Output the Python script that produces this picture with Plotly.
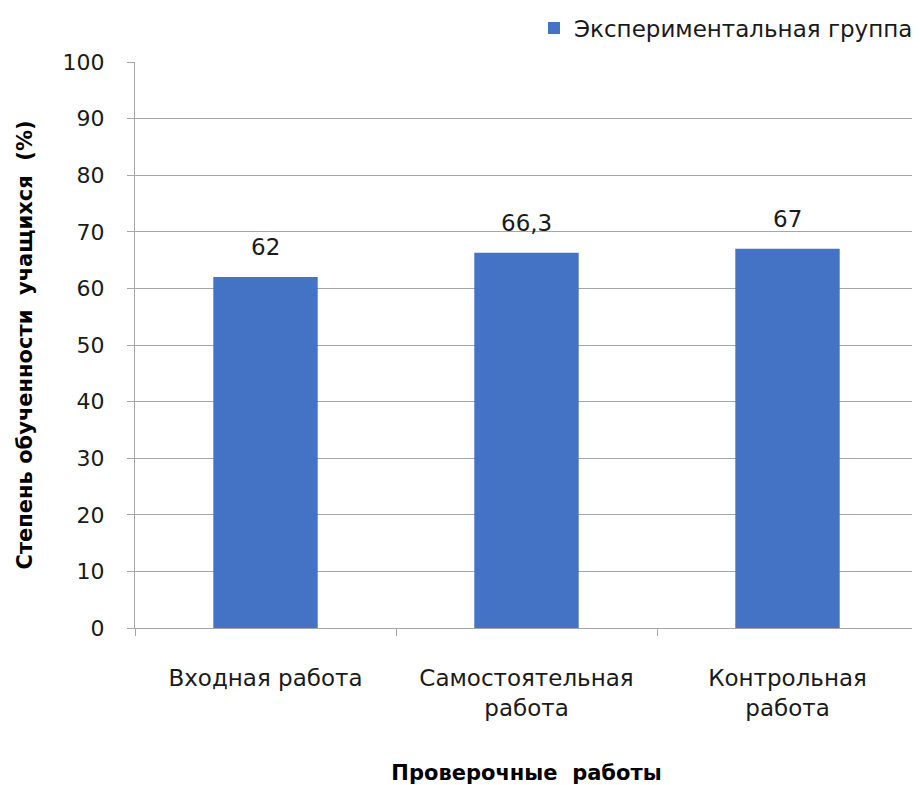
import plotly.graph_objects as go

categories = ["Входная работа", "Самостоятельная<br>работа", "Контрольная<br>работа"]
values = [62, 66.3, 67]
labels = ["62", "66,3", "67"]
series_name = "Экспериментальная группа"
y_ticks = [0, 10, 20, 30, 40, 50, 60, 70, 80, 90, 100]

FONT = "DejaVu Sans"
TXT = "#1a1a1a"
fig = go.Figure()
fig.add_trace(go.Bar(
    x=categories, y=values, name=series_name,
    marker=dict(color="#4472C4", line=dict(width=0)),
))
for c, v, t in zip(categories, values, labels):
    fig.add_annotation(x=c, y=v, text=t, showarrow=False, yanchor="middle", yshift=30,
                       font=dict(family=FONT, size=23, color=TXT))

fig.update_layout(
    width=912, height=777,
    margin=dict(l=127, r=2, t=54, b=157, autoexpand=False),
    paper_bgcolor="white", plot_bgcolor="white",
    bargap=0.6,
    showlegend=True,
    legend=dict(x=1.0, xanchor="right", y=1.06, yanchor="middle",
                font=dict(family=FONT, size=23, color=TXT),
                itemwidth=30, bgcolor="rgba(0,0,0,0)"),
    font=dict(family=FONT, color=TXT),
)
fig.update_yaxes(
    range=[0, 100], tickvals=y_ticks, showgrid=True, gridcolor="#a6a6a6", gridwidth=1,
    showline=True, linecolor="#a6a6a6", linewidth=1,
    ticks="outside", ticklen=7, tickcolor="#a6a6a6",
    ticklabelstandoff=18,
    tickfont=dict(family=FONT, size=22, color=TXT),
    title=dict(text="Степень обученности  учащихся  (%)",
               font=dict(family=FONT, size=21, color="#000", weight="bold"), standoff=24),
    zeroline=False,
)
fig.update_xaxes(
    showline=True, linecolor="#a6a6a6", linewidth=1,
    ticks="outside", ticklen=7, tickcolor="#a6a6a6", tickson="boundaries",
    ticklabelstandoff=29,
    tickfont=dict(family=FONT, size=23, color=TXT),
    title=dict(text="Проверочные  работы",
               font=dict(family=FONT, size=21, color="#000", weight="bold"), standoff=50),
)

fig.write_html("out.html")
